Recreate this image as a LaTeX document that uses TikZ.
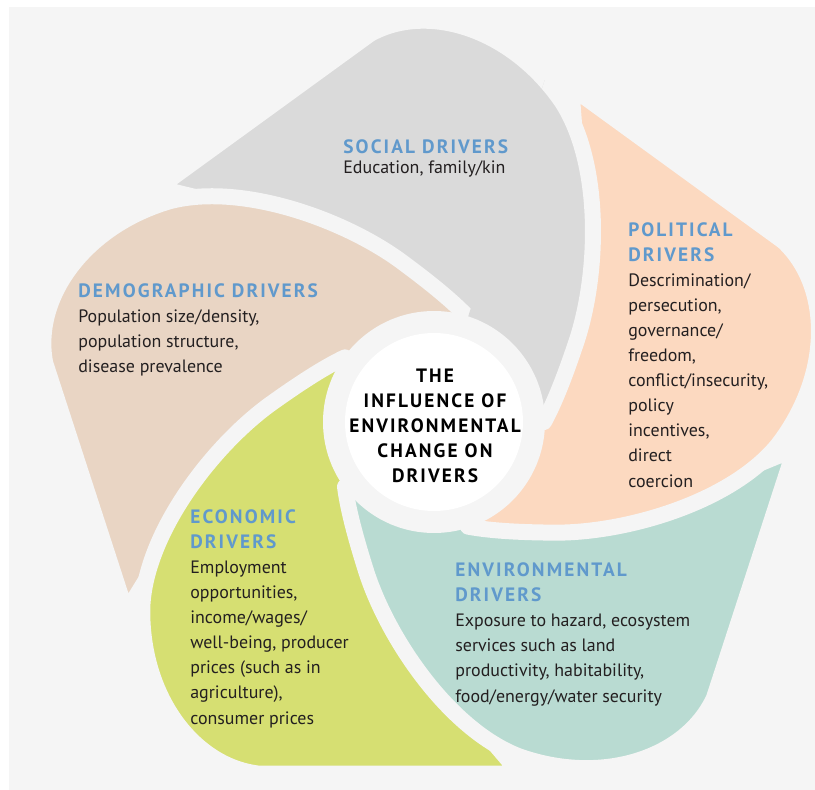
\documentclass[tikz,border=0pt]{standalone}
\usepackage{fontspec}
\setmainfont{PT Sans}
\newfontfamily\titlefont[LetterSpace=11]{PT Sans}
\usepackage{tikz}
\usetikzlibrary{positioning}
\usepackage{xcolor}

\definecolor{bgc}{RGB}{245,245,245}
\definecolor{socialc}{RGB}{218,218,218}
\definecolor{polc}{RGB}{252,217,192}
\definecolor{envc}{RGB}{185,219,210}
\definecolor{econc}{RGB}{214,223,114}
\definecolor{democ}{RGB}{233,213,196}
\definecolor{ttlc}{RGB}{96,153,204}
\definecolor{txtc}{RGB}{35,31,32}

% one blade of the pinwheel, around the hub centre
\newcommand{\bladepath}{(-276,-234) -- (-64,-388)
  .. controls (-6,-420) and (78,-393) .. (128,-320)
  .. controls (168,-258) and (165,-150) .. (143,-82)
  .. controls (133,-52) and (122,-22) .. (110,0)
  -- (95,-10) -- (80,-55) -- (40,-87) -- (-17,-94)
  -- (-30,-140) -- (-150,-185) -- (-202,-216) -- cycle}
\newcommand{\ttl}[1]{{\titlefont\bfseries\fontsize{11}{14.23}\selectfont\color{ttlc}#1}}

\begin{document}
\begin{tikzpicture}[x=0.02cm, y=-0.02cm,
  blade/.style={draw=bgc, line width=0.32cm, line join=round},
  txt/.style={anchor=base west, inner sep=0pt, align=left, text=txtc,
    font=\fontsize{10.2}{14.23}\selectfont},
  hubtext/.style={anchor=base, inner sep=0pt, align=center, text=black,
    font=\titlefont\bfseries\fontsize{11}{14.1}\selectfont}]
  \useasboundingbox (0,0) rectangle (815,790);
  % background
  \fill[bgc] (9,7) rectangle (815,790);
  % blades
  \begin{scope}[shift={(434,422)}]
    \filldraw[blade, fill=socialc] \bladepath;
    \filldraw[blade, fill=democ, rotate=72] \bladepath;
    \filldraw[blade, fill=econc, rotate=144] \bladepath;
    \filldraw[blade, fill=envc, rotate=216] \bladepath;
    \filldraw[blade, fill=polc, rotate=288] \bladepath;
    % social again over the political tail
    \begin{scope}
      \clip (0,0) -- (185,-571) -- (564,-205) -- (520,300) -- cycle;
      \filldraw[blade, fill=socialc] \bladepath;
    \end{scope}
    % hub
    \fill[bgc] (0,0) circle (111);
    \fill[white] (0,0) circle (89);
  \end{scope}
  \node[hubtext] (hub) at (435,482)
    {THE\\INFLUENCE OF\\ENVIRONMENTAL\\CHANGE ON\\DRIVERS};
  % labels (anchored at the last baseline)
  \node[txt] (social) at (343,174)
    {\ttl{SOCIAL DRIVERS}\\[-2.4pt]Education, family/kin};
  \node[txt] (political) at (628,487)
    {\ttl{POLITICAL}\\\ttl{DRIVERS}\\Descrimination/\\persecution,\\governance/\\freedom,\\conflict/insecurity,\\policy\\incentives,\\direct\\coercion};
  \node[txt] (demographic) at (78,373)
    {\ttl{DEMOGRAPHIC DRIVERS}\\Population size/density,\\population structure,\\disease prevalence};
  \node[txt] (economic) at (190,724)
    {\ttl{ECONOMIC}\\\ttl{DRIVERS}\\Employment\\opportunities,\\income/wages/\\well-being, producer\\prices (such as in\\agriculture),\\consumer prices};
  \node[txt] (environmental) at (455,702)
    {\ttl{ENVIRONMENTAL}\\\ttl{DRIVERS}\\Exposure to hazard, ecosystem\\services such as land\\productivity, habitability,\\food/energy/water security};
\end{tikzpicture}
\end{document}
